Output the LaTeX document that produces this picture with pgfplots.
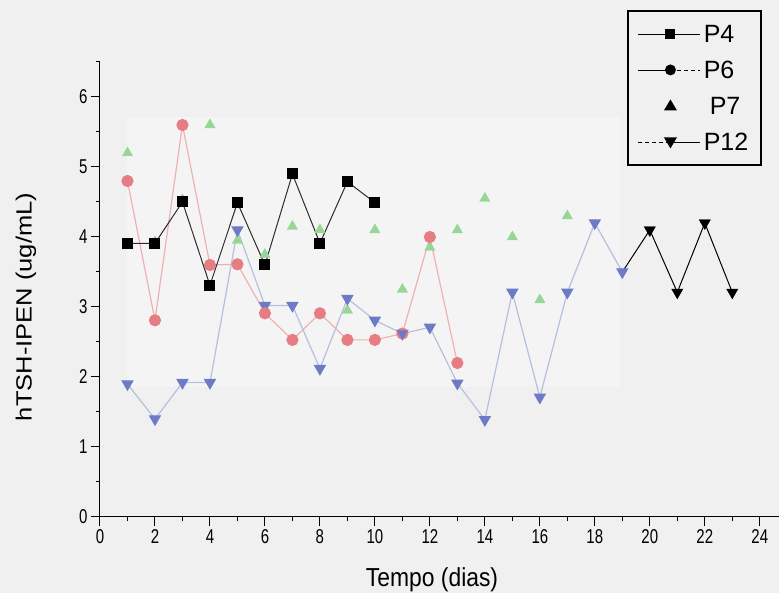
\documentclass[border=0pt]{standalone}
\usepackage{pgfplots}
\pgfplotsset{compat=1.18}
\usepackage{fontspec}
\setmainfont{Liberation Sans}
\newfontfamily\tickfont[FakeStretch=0.75]{Liberation Sans}
\newfontfamily\xlabfont[FakeStretch=0.88]{Liberation Sans}
\newfontfamily\ylabfont[FakeStretch=1.16]{Liberation Sans}

\definecolor{bg}{RGB}{240,240,240}
\definecolor{panel}{RGB}{244,244,244}
\definecolor{pfour}{RGB}{45,45,45}
\definecolor{psixm}{RGB}{230,125,130}
\definecolor{psixl}{RGB}{238,178,180}
\definecolor{psevm}{RGB}{150,215,150}
\definecolor{ptwm}{RGB}{108,122,200}
\definecolor{ptwl}{RGB}{180,192,222}

\begin{document}
\begin{tikzpicture}
\fill[bg] (-100pt,-76pt) rectangle (679pt,517pt);
\begin{axis}[
  at={(0pt,0pt)}, anchor=south west,
  scale only axis, width=679pt, height=455pt,
  xmin=0, xmax=24.7, ymin=0, ymax=6.5,
  axis x line=bottom, axis y line=left,
  axis line style={-, black, line width=1pt},
  xtick={0,2,...,24}, minor xtick={1,3,...,23},
  ytick={0,1,...,6}, minor ytick={0.5,1.5,...,6.5},
  tick align=outside,
  major tick length=9pt, minor tick length=4pt,
  tick style={black, line width=1pt},
  /pgf/number format/assume math mode=true,
  ticklabel style={font=\tickfont\fontsize{20}{20}\selectfont},
  xlabel={Tempo (dias)},
  xlabel style={at={(axis description cs:0.489,0)}, anchor=base, yshift=-70pt,
    font=\xlabfont\fontsize{26}{26}\selectfont},
  ylabel={hTSH-IPEN (ug/mL)},
  ylabel style={at={(axis description cs:-0.109,0.4615)}, anchor=center,
    font=\ylabfont\fontsize{22}{22}\selectfont},
  legend style={at={(0.975,1.114)}, anchor=north east, draw=black,
    line width=1.6pt, fill=bg, font=\fontsize{25}{25}\selectfont,
    row sep=18pt, inner xsep=10pt, inner ysep=14pt,
    nodes={inner xsep=3pt, inner ysep=0pt, text height=18pt, text depth=0pt}},
  legend cell align=left,
  clip=false,
]
\fill[panel] (axis cs:1,1.85) rectangle (axis cs:18.9,5.71);

% P7: marks only
\addplot[only marks, mark=triangle*, mark size=6pt, color=psevm, forget plot]
  coordinates {(1,5.2)(2,3.93)(3,4.53)(4,5.6)(5,3.95)(6,3.75)(7,4.15)(8,4.1)
    (9,2.95)(10,4.1)(11,3.25)(12,3.85)(13,4.1)(14,4.55)(15,4.0)(16,3.1)(17,4.3)};

% P12, first part
\addplot[color=ptwl, line width=1.2pt, mark=triangle*, mark size=6pt,
  mark options={rotate=180, fill=ptwm, draw=ptwm}, forget plot]
  coordinates {(1,1.9)(2,1.4)(3,1.92)(4,1.92)(5,4.1)(6,3.02)(7,3.02)(8,2.12)
    (9,3.12)(10,2.81)(11,2.62)(12,2.71)(13,1.91)(14,1.39)(15,3.21)(16,1.71)
    (17,3.21)(18,4.2)(19,3.5)};

% P6
\addplot[color=psixl, line width=1.2pt, mark=*, mark size=5.5pt,
  mark options={fill=psixm, draw=psixm}, forget plot]
  coordinates {(1,4.8)(2,2.81)(3,5.6)(4,3.6)(5,3.61)(6,2.91)(7,2.53)(8,2.91)
    (9,2.53)(10,2.53)(11,2.62)(12,4.0)(13,2.2)};

% P12 redrawn on top where the markers overlap
\addplot[only marks, mark=triangle*, mark size=6pt,
  mark options={rotate=180, fill=ptwm, draw=ptwm}, forget plot]
  coordinates {(11,2.62)};

% P4
\addplot[color=pfour, line width=1pt, mark=square*, mark size=5pt,
  mark options={fill=black, draw=black}, forget plot]
  coordinates {(1,3.91)(2,3.91)(3,4.5)(4,3.31)(5,4.49)(6,3.6)(7,4.9)(8,3.91)
    (9,4.79)(10,4.49)};

% P12, last part
\addplot[color=black, line width=1pt, forget plot]
  coordinates {(19,3.5)(20,4.1)(21,3.21)(22,4.2)(23,3.21)};
\addplot[only marks, mark=triangle*, mark size=6.5pt,
  mark options={rotate=180, fill=black, draw=black}, forget plot]
  coordinates {(20,4.1)(21,3.21)(22,4.2)(23,3.21)};

% legend
\addlegendimage{legend image code/.code={
  \draw[black, line width=0.6pt] (0pt,0pt) -- (62pt,0pt);
  \fill[black, draw=none] (27pt,-5pt) rectangle (37pt,5pt);}}
\addlegendentry{P4}
\addlegendimage{legend image code/.code={
  \draw[black, line width=0.6pt] (0pt,0pt) -- (32pt,0pt);
  \draw[black, line width=0.6pt, dash pattern=on 4pt off 3pt] (32pt,0pt) -- (62pt,0pt);
  \fill[black, draw=none] (32pt,0pt) circle (5.5pt);}}
\addlegendentry{P6}
\addlegendimage{legend image code/.code={
  \path[draw=none] (0pt,0pt) -- (62pt,0pt);
  \fill[black, draw=none] (32pt,6.5pt) -- (25.5pt,-4.5pt) -- (38.5pt,-4.5pt) -- cycle;}}
\addlegendentry{\hspace{6pt}P7}
\addlegendimage{legend image code/.code={
  \draw[black, line width=0.6pt, dash pattern=on 4pt off 3pt] (0pt,0pt) -- (32pt,0pt);
  \draw[black, line width=0.6pt] (32pt,0pt) -- (62pt,0pt);
  \fill[black, draw=none] (32pt,-6.5pt) -- (25.5pt,4.5pt) -- (38.5pt,4.5pt) -- cycle;}}
\addlegendentry{P12}
\end{axis}
\pgfresetboundingbox
\path (-100pt,-76pt) rectangle (679pt,517pt);
\end{tikzpicture}
\end{document}
